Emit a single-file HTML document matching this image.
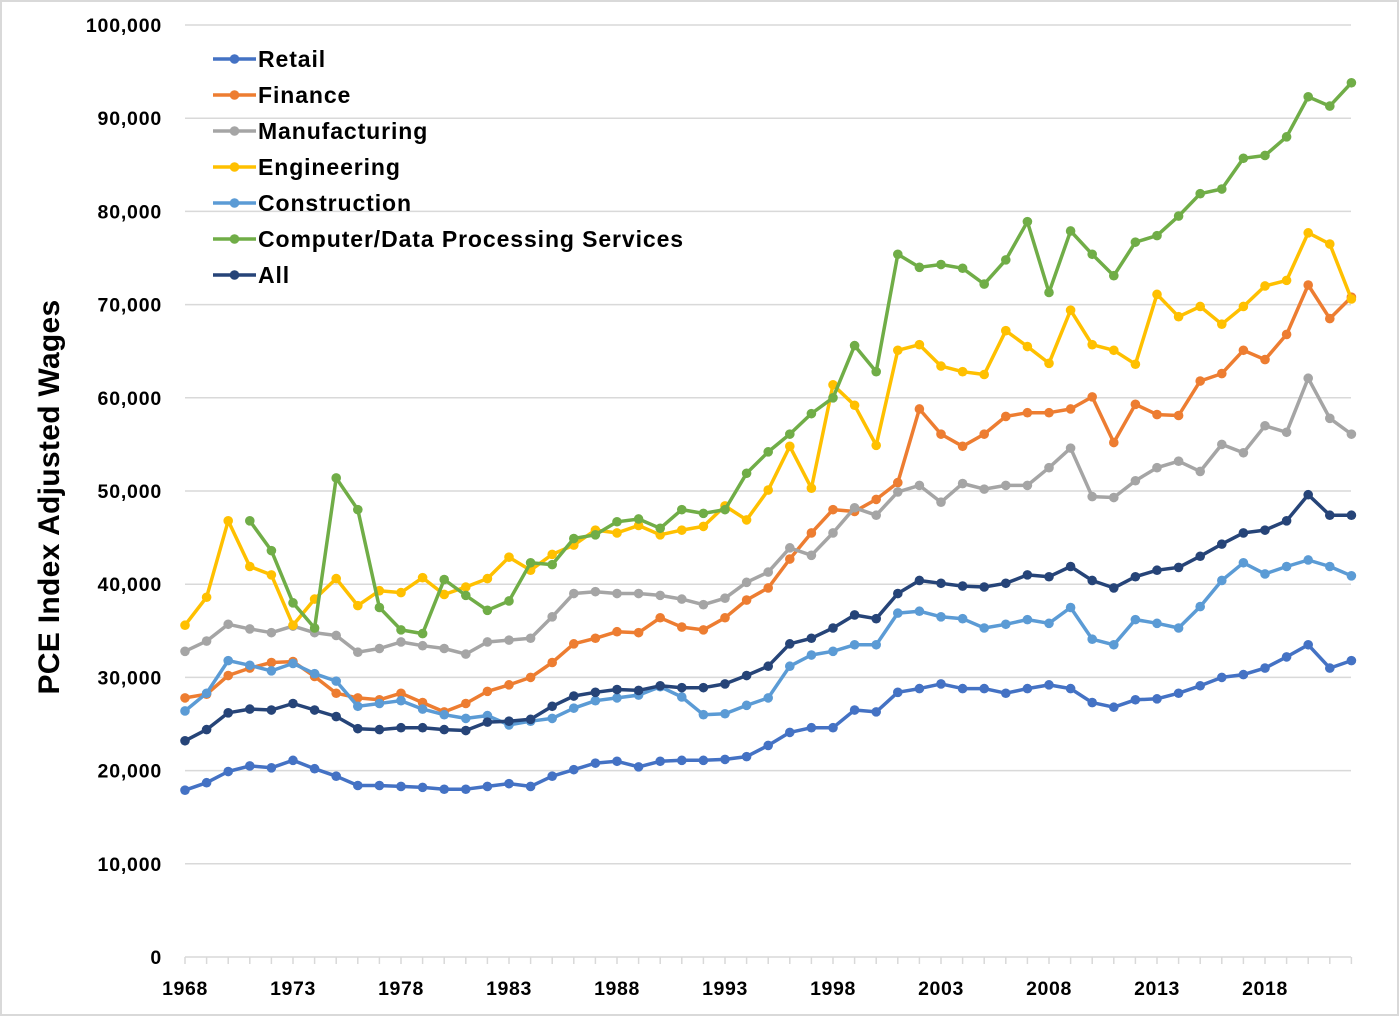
<!DOCTYPE html>
<html><head><meta charset="utf-8"><style>
html,body{margin:0;padding:0;background:#fff}
svg{display:block;font-family:"Liberation Sans",sans-serif;font-weight:bold}
</style></head><body>
<svg id="s" width="1400" height="1017" xmlns="http://www.w3.org/2000/svg">
<rect x="1" y="1" width="1397" height="1014" fill="#fff" stroke="#d9d9d9" stroke-width="2"/>
<g id="g"></g>
</svg>
<script>
const S=document.getElementById('g');const ns='http://www.w3.org/2000/svg';
function el(t,a,txt){const e=document.createElementNS(ns,t);for(const k in a)e.setAttribute(k,a[k]);if(txt!==undefined)e.textContent=txt;S.appendChild(e);return e;}
const X=y=>185+(y-1968)*21.6, Y=v=>957-v*0.00932;
for(let i=0;i<=10;i++){const y=Y(i*10000);
 if(i>0)el('line',{x1:185,x2:1351,y1:y,y2:y,stroke:'#d9d9d9','stroke-width':1.5});
 el('text',{x:162,y:y+7,'text-anchor':'end','font-size':19.5,'letter-spacing':'0.8',fill:'#000'},i==0?'0':(i*10000).toLocaleString('en-US'));}
el('line',{x1:185,x2:1351,y1:957,y2:957,stroke:'#d9d9d9','stroke-width':1.5});
for(let yr=1968;yr<=2022;yr++)el('line',{x1:X(yr),x2:X(yr),y1:957,y2:964,stroke:'#d9d9d9','stroke-width':1.5});
for(let yr=1968;yr<=2018;yr+=5)el('text',{x:X(yr),y:995,'text-anchor':'middle','font-size':19.5,'letter-spacing':'0.6'},yr);
el('text',{transform:'translate(59,497) rotate(-90)','text-anchor':'middle','font-size':30,'letter-spacing':'0.3'},'PCE Index Adjusted Wages');
const D=[
['Retail','#4472C4',1968,[17900,18700,19900,20500,20300,21100,20200,19400,18400,18400,18300,18200,18000,18000,18300,18600,18300,19400,20100,20800,21000,20400,21000,21100,21100,21200,21500,22700,24100,24600,24600,26500,26300,28400,28800,29300,28800,28800,28300,28800,29200,28800,27300,26800,27600,27700,28300,29100,30000,30300,31000,32200,33500,31000,31800]],
['Finance','#ED7D31',1968,[27800,28200,30200,31000,31600,31700,30100,28300,27800,27600,28300,27300,26300,27200,28500,29200,30000,31600,33600,34200,34900,34800,36400,35400,35100,36400,38300,39600,42700,45500,48000,47800,49100,50900,58800,56100,54800,56100,58000,58400,58400,58800,60100,55200,59300,58200,58100,61800,62600,65100,64100,66800,72100,68500,70800]],
['Manufacturing','#A5A5A5',1968,[32800,33900,35700,35200,34800,35500,34800,34500,32700,33100,33800,33400,33100,32500,33800,34000,34200,36500,39000,39200,39000,39000,38800,38400,37800,38500,40200,41300,43900,43100,45500,48200,47400,49900,50600,48800,50800,50200,50600,50600,52500,54600,49400,49300,51100,52500,53200,52100,55000,54100,57000,56300,62100,57800,56100]],
['Engineering','#FFC000',1968,[35600,38600,46800,41900,41000,35600,38400,40600,37700,39300,39100,40700,38900,39700,40600,42900,41500,43200,44200,45800,45500,46300,45300,45800,46200,48400,46900,50100,54800,50300,61400,59200,54900,65100,65700,63400,62800,62500,67200,65500,63700,69400,65700,65100,63600,71100,68700,69800,67900,69800,72000,72600,77700,76500,70600]],
['Construction','#5B9BD5',1968,[26400,28300,31800,31300,30700,31500,30400,29600,26900,27200,27500,26600,26000,25600,25900,24900,25300,25600,26700,27500,27800,28100,29000,27900,26000,26100,27000,27800,31200,32400,32800,33500,33500,36900,37100,36500,36300,35300,35700,36200,35800,37500,34100,33500,36200,35800,35300,37600,40400,42300,41100,41900,42600,41900,40900]],
['Computer/Data Processing Services','#70AD47',1971,[46800,43600,38000,35300,51400,48000,37500,35100,34700,40500,38800,37200,38200,42300,42100,44900,45300,46700,47000,46000,48000,47600,48000,51900,54200,56100,58300,60000,65600,62800,75400,74000,74300,73900,72200,74800,78900,71300,77900,75400,73100,76700,77400,79500,81900,82400,85700,86000,88000,92300,91300,93800]],
['All','#264478',1968,[23200,24400,26200,26600,26500,27200,26500,25800,24500,24400,24600,24600,24400,24300,25200,25300,25500,26900,28000,28400,28700,28600,29100,28900,28900,29300,30200,31200,33600,34200,35300,36700,36300,39000,40400,40100,39800,39700,40100,41000,40800,41900,40400,39600,40800,41500,41800,43000,44300,45500,45800,46800,49600,47400,47400]]];
D.forEach((s,i)=>{
 const pts=s[3].map((v,j)=>X(s[2]+j).toFixed(1)+','+Y(v).toFixed(1));
 el('polyline',{points:pts.join(' '),fill:'none',stroke:s[1],'stroke-width':3.5,'stroke-linejoin':'round'});
 s[3].forEach((v,j)=>el('circle',{cx:X(s[2]+j),cy:Y(v),r:4.8,fill:s[1]}));
 const ly=59+i*36;
 el('line',{x1:213,x2:256,y1:ly,y2:ly,stroke:s[1],'stroke-width':3.5});
 el('circle',{cx:234.5,cy:ly,r:4.8,fill:s[1]});
 el('text',{x:258,y:ly+8,'font-size':23,'letter-spacing':'0.9'},s[0]);
});
</script>
</body></html>
